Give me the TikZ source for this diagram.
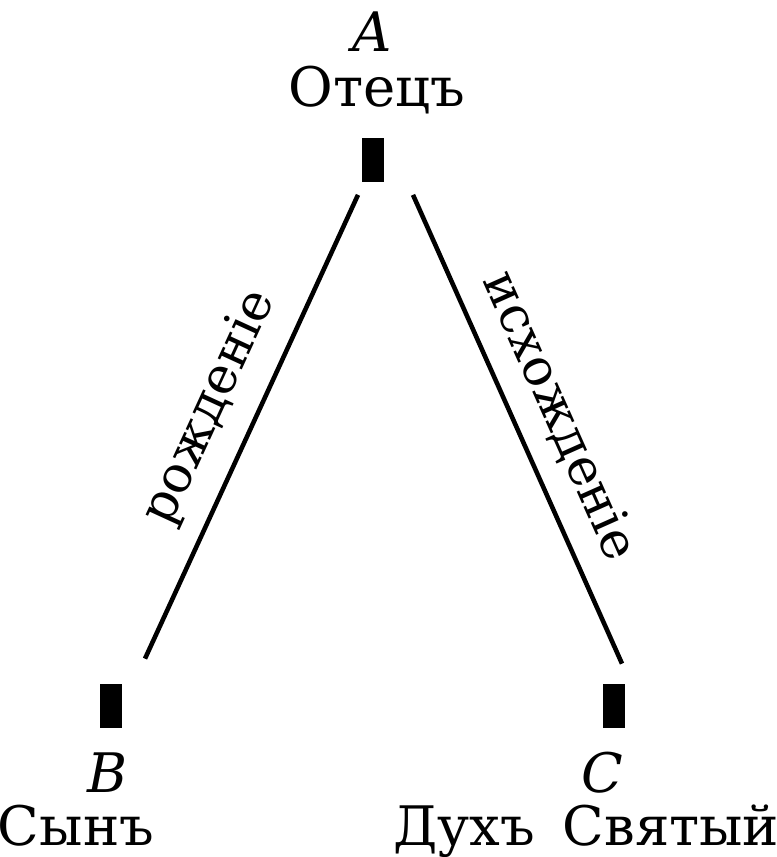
\documentclass[tikz,border=0pt]{standalone}
\usepackage{fontspec}
\setmainfont{DejaVu Serif}
\usetikzlibrary{positioning}

\begin{document}
\begin{tikzpicture}[
    barbox/.style={fill=black, inner sep=0pt, minimum width=0.44cm, minimum height=0.88cm},
    word/.style={font=\fontsize{31}{36}\selectfont, inner sep=0pt, anchor=base},
    letter/.style={font=\fontsize{31}{36}\selectfont\itshape, inner sep=0pt, anchor=base},
    rel/.style={line width=2.6pt},
    rellabel/.style={font=\fontsize{29}{34}\selectfont, sloped, above=11pt, inner sep=0pt}
]
    \useasboundingbox (0,0) rectangle (15.54,17.14);

    \node[barbox] (a) at (7.46,13.94) {};
    \node[barbox] (b) at (2.22,3.02) {};
    \node[barbox] (c) at (12.28,3.02) {};

    \node[letter] (la) at (7.44,16.1) {A};
    \node[word] (father) at (7.54,15.0) {Отецъ};
    \node[letter] (lb) at (2.16,1.28) {B};
    \node[word] (son) at (1.52,0.24) {Сынъ};
    \node[letter] (lc) at (12.04,1.28) {C};
    \node[word] (spirit) at (9.28,0.24) {Духъ};
    \node[word] (holy) at (13.42,0.24) {Святый};

    \draw[rel] ([shift={(0.68,0.50)}]b.north) -- node[rellabel, pos=0.5] {рожденіе} ([shift={(-0.30,-0.25)}]a.south);
    \draw[rel] ([shift={(0.80,-0.25)}]a.south) -- node[rellabel, pos=0.51] {исхожденіе} ([shift={(0.16,0.40)}]c.north);
\end{tikzpicture}
\end{document}
